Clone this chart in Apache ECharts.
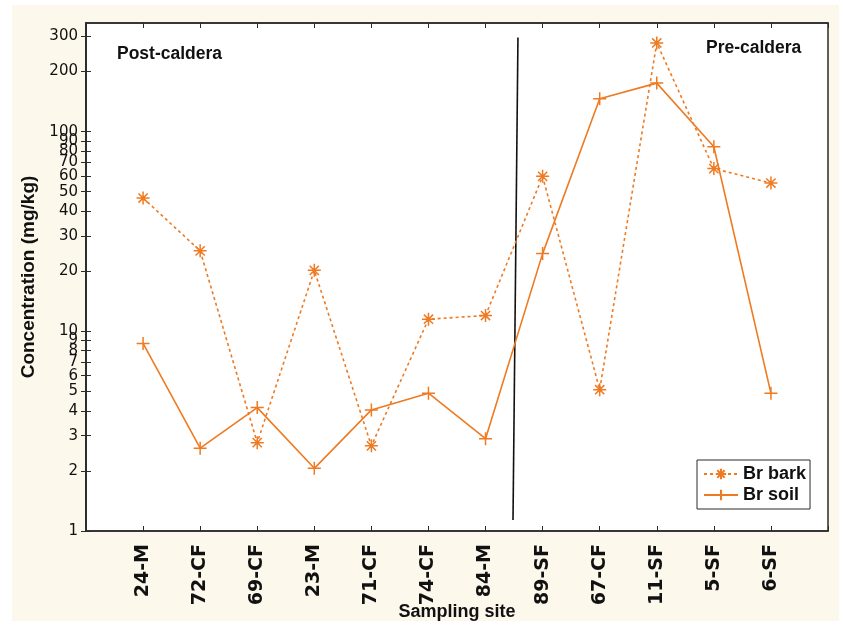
<!DOCTYPE html>
<html>
<head>
<meta charset="utf-8">
<script src="https://cdn.jsdelivr.net/npm/echarts@6/dist/echarts.min.js"></script>
<style>
  html, body { margin: 0; padding: 0; background: #ffffff; }
  #chart { width: 843px; height: 626px; }
</style>
</head>
<body>
<div id="chart"></div>
<script>
// Sampling sites along the x axis (positions 1..12 on a 0..13 axis)
const sites = ['24-M', '72-CF', '69-CF', '23-M', '71-CF', '74-CF', '84-M', '89-SF', '67-CF', '11-SF', '5-SF', '6-SF'];

// Br concentrations (mg/kg)
const brBark = [46.5, 25.3, 2.77, 20.2, 2.67, 11.5, 12.0, 59.7, 5.1, 278, 65.3, 55.3];
const brSoil = [8.7, 2.6, 4.15, 2.06, 4.04, 4.9, 2.9, 24.5, 146, 175, 84, 4.9];

// Divider between post- and pre-caldera sites: [x, concentration]
const dividerTop = [7.568, 296];
const dividerBottom = [7.481, 1.135];

// Log-axis tick values
const yTicks = [1, 2, 3, 4, 5, 6, 7, 8, 9, 10, 20, 30, 40, 50, 60, 70, 80, 90, 100, 200, 300];

const orange = '#ee7a22';
const axisColor = '#2b2b2b';

const plusPath = 'path://M6,0L6,12M0,6L12,6';
const starPath = 'path://M6,0L6,12M0,6L12,6M1.76,1.76L10.24,10.24M10.24,1.76L1.76,10.24';

const toPairs = vals => vals.map((v, i) => [i + 1, v]);

const chart = echarts.init(document.getElementById('chart'), null, { renderer: 'canvas' });

const xTick = { show: true, inside: true, length: 5, lineStyle: { color: axisColor, width: 1 } };
// log-axis ticks drawn towards the plot interior
const yTick = { show: true, inside: false, length: -5, customValues: yTicks, lineStyle: { color: axisColor, width: 1 } };

chart.setOption({
  backgroundColor: '#ffffff',
  animation: false,
  graphic: [
    { type: 'rect', z: -10, shape: { x: 12, y: 5, width: 827, height: 616 }, style: { fill: '#fdf8ec' } },
    { type: 'text', left: 117, top: 45, z: 10,
      style: { text: 'Post-caldera', font: 'bold 17.5px "Liberation Sans", Arial, sans-serif', fill: '#111' } },
    { type: 'text', left: 706, top: 39, z: 10,
      style: { text: 'Pre-caldera', font: 'bold 17.5px "Liberation Sans", Arial, sans-serif', fill: '#111' } }
  ],
  grid: {
    left: 86, right: 15, top: 23, bottom: 95,
    outerBoundsMode: 'none', containLabel: false,
    show: true, backgroundColor: '#ffffff', borderColor: axisColor, borderWidth: 1.5
  },
  legend: {
    data: ['Br bark', 'Br soil'],
    orient: 'vertical',
    left: 697, top: 460,
    backgroundColor: '#ffffff',
    borderColor: axisColor, borderWidth: 1,
    padding: [5, 4, 5, 6],
    itemWidth: 34, itemHeight: 13, itemGap: 3,
    textStyle: { fontFamily: '"Liberation Sans", Arial, sans-serif', fontWeight: 'bold', fontSize: 18, color: '#111' }
  },
  xAxis: [
    {
      type: 'value', min: 0, max: 13, interval: 1, position: 'bottom',
      name: 'Sampling site', nameLocation: 'middle', nameGap: 72, nameMoveOverlap: false,
      nameTextStyle: { fontFamily: '"Liberation Sans", Arial, sans-serif', fontWeight: 'bold', fontSize: 18, color: '#111' },
      axisLine: { show: true, lineStyle: { color: axisColor, width: 1.5 } },
      axisTick: xTick,
      splitLine: { show: false },
      axisLabel: {
        rotate: 90, margin: 13,
        fontFamily: '"DejaVu Sans", sans-serif', fontWeight: 'bold', fontSize: 19, color: '#111',
        formatter: v => sites[v - 1] || ''
      }
    },
    {
      type: 'value', min: 0, max: 13, interval: 1, position: 'top',
      axisLine: { show: true, lineStyle: { color: axisColor, width: 1.5 } },
      axisTick: xTick,
      axisLabel: { show: false }, splitLine: { show: false }
    }
  ],
  yAxis: [
    {
      type: 'log', logBase: 10, min: 1, max: 350, position: 'left',
      name: 'Concentration (mg/kg)', nameLocation: 'middle', nameGap: 46,
      nameTextStyle: { fontFamily: '"Liberation Sans", Arial, sans-serif', fontWeight: 'bold', fontSize: 19, color: '#111' },
      axisLine: { show: true, lineStyle: { color: axisColor, width: 1.5 } },
      axisTick: yTick,
      axisLabel: {
        customValues: yTicks, margin: 8,
        fontFamily: '"DejaVu Sans", sans-serif', fontSize: 15, color: '#111',
        formatter: v => String(Math.round(v))
      },
      splitLine: { show: false }, minorTick: { show: false }
    },
    {
      type: 'log', logBase: 10, min: 1, max: 350, position: 'right',
      axisLine: { show: true, lineStyle: { color: axisColor, width: 1.5 } },
      axisTick: yTick,
      axisLabel: { show: false }, splitLine: { show: false }
    }
  ],
  series: [
    {
      name: 'Br bark', type: 'line', data: toPairs(brBark),
      symbol: starPath, symbolSize: 13,
      lineStyle: { color: orange, width: 1.6, type: [3, 3] },
      itemStyle: { color: orange, borderColor: orange, borderWidth: 1.5 },
      z: 3
    },
    {
      name: 'Br soil', type: 'line', data: toPairs(brSoil),
      symbol: plusPath, symbolSize: 13,
      lineStyle: { color: orange, width: 1.6, type: 'solid' },
      itemStyle: { color: orange, borderColor: orange, borderWidth: 1.5 },
      z: 3
    },
    {
      name: 'divider', type: 'line', data: [dividerTop, dividerBottom],
      symbol: 'none', silent: true,
      lineStyle: { color: '#111', width: 1.6 },
      z: 2
    }
  ]
});
</script>
</body>
</html>
